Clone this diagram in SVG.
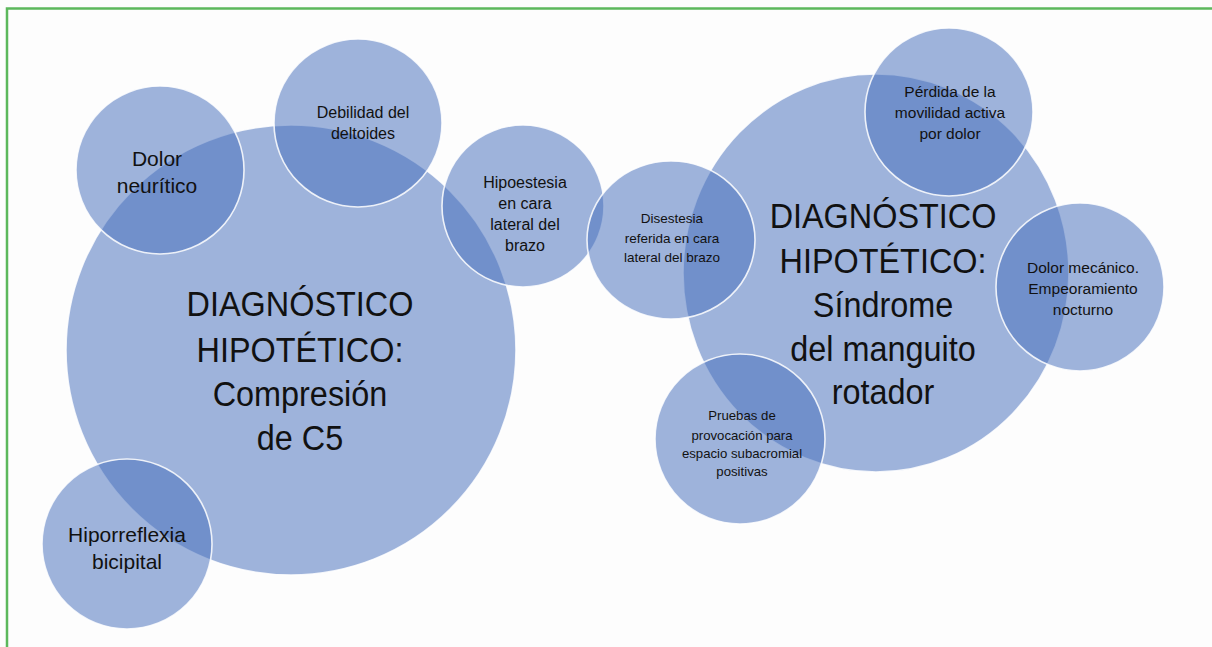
<svg xmlns="http://www.w3.org/2000/svg" width="1212" height="647" viewBox="0 0 1212 647">
  <style>
    .bubble { fill: #4a72bc; fill-opacity: 0.53; stroke: #ffffff; stroke-width: 1.6; stroke-opacity: 0.85; }
    .label { font-family: "Liberation Sans", Arial, sans-serif; fill: #111111; text-anchor: middle; }
    .big { font-size: 36px; }
    .mid { font-size: 21px; }
    .sm { font-size: 16px; }
    .md2 { font-size: 15.5px; }
    .xs { font-size: 13.5px; }
    .xxs { font-size: 13.2px; }
  </style>
  <rect x="0" y="0" width="1212" height="647" fill="#fdfdfd"/>
  <rect x="7" y="8.5" width="1220" height="650" fill="none" stroke="#5cb85c" stroke-width="2.5"/>

  <!-- main hypothesis: nerve root -->
  <g id="compresion-c5">
    <circle class="bubble" cx="291" cy="350" r="225"/>
  </g>
  <!-- main hypothesis: rotator cuff -->
  <g id="manguito-rotador">
    <ellipse class="bubble" cx="876" cy="273" rx="193" ry="199"/>
  </g>

  <g id="dolor-neuritico">
    <circle class="bubble" cx="160" cy="170" r="84"/>
    <text class="label mid" x="157" y="166">Dolor</text>
    <text class="label mid" x="157" y="193">neurítico</text>
  </g>

  <g id="debilidad-deltoides">
    <circle class="bubble" cx="358" cy="123" r="84"/>
    <text class="label sm" x="363" y="118">Debilidad del</text>
    <text class="label sm" x="363" y="139">deltoides</text>
  </g>

  <g id="hipoestesia">
    <circle class="bubble" cx="523" cy="206" r="81"/>
    <text class="label sm" x="525" y="188">Hipoestesia</text>
    <text class="label sm" x="525" y="209">en cara</text>
    <text class="label sm" x="525" y="230">lateral del</text>
    <text class="label sm" x="525" y="251">brazo</text>
  </g>

  <g id="disestesia">
    <ellipse class="bubble" cx="671" cy="240" rx="84" ry="79"/>
    <text class="label xs" x="672" y="223">Disestesia</text>
    <text class="label xs" x="672" y="243">referida en cara</text>
    <text class="label xs" x="672" y="262">lateral del brazo</text>
  </g>

  <g id="perdida-movilidad">
    <circle class="bubble" cx="949" cy="112" r="84"/>
    <text class="label md2" x="950" y="97">Pérdida de la</text>
    <text class="label md2" x="950" y="118">movilidad activa</text>
    <text class="label md2" x="950" y="139">por dolor</text>
  </g>

  <g id="dolor-mecanico">
    <circle class="bubble" cx="1080" cy="287" r="84"/>
    <text class="label md2" x="1083" y="273">Dolor mecánico.</text>
    <text class="label md2" x="1083" y="294">Empeoramiento</text>
    <text class="label md2" x="1083" y="315">nocturno</text>
  </g>

  <g id="pruebas-provocacion">
    <circle class="bubble" cx="740" cy="439" r="85"/>
    <text class="label xxs" x="742" y="420">Pruebas de</text>
    <text class="label xxs" x="742" y="440">provocación para</text>
    <text class="label xxs" x="742" y="458">espacio subacromial</text>
    <text class="label xxs" x="742" y="476">positivas</text>
  </g>

  <g id="hiporreflexia">
    <circle class="bubble" cx="127" cy="544" r="85"/>
    <text class="label mid" x="127" y="542">Hiporreflexia</text>
    <text class="label mid" x="127" y="569">bicipital</text>
  </g>

  <!-- main titles drawn last so they stay above the bubbles; slightly condensed -->
  <g id="titulo-compresion" transform="translate(300 0) scale(0.9 1) translate(-300 0)">
    <text class="label big" x="300" y="316">DIAGNÓSTICO</text>
    <text class="label big" x="300" y="362">HIPOTÉTICO:</text>
    <text class="label big" x="300" y="406">Compresión</text>
    <text class="label big" x="300" y="450">de C5</text>
  </g>
  <g id="titulo-manguito" transform="translate(883 0) scale(0.9 1) translate(-883 0)">
    <text class="label big" x="883" y="228">DIAGNÓSTICO</text>
    <text class="label big" x="883" y="273">HIPOTÉTICO:</text>
    <text class="label big" x="883" y="317">Síndrome</text>
    <text class="label big" x="883" y="361">del manguito</text>
    <text class="label big" x="883" y="404">rotador</text>
  </g>

  <!-- no connectors: the bubbles relate by overlap only -->
  <g id="connectors"/>
</svg>
